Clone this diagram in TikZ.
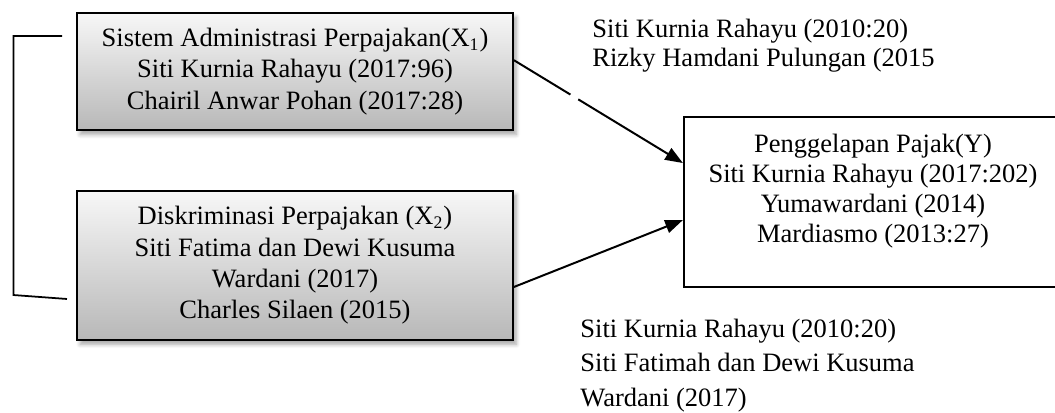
\documentclass[tikz,border=0pt]{standalone}
\usepackage{fontspec}
\setmainfont{Liberation Serif}
\usetikzlibrary{arrows.meta,shadows.blur,calc}

\begin{document}
\begin{tikzpicture}[
  varbox/.style={draw, line width=0.8pt, top color=black!3, bottom color=black!28,
    blur shadow={shadow xshift=0.05cm, shadow yshift=-0.07cm, shadow blur steps=6, shadow opacity=35},
    align=center, inner sep=0pt, minimum width=6.94cm,
    font=\fontsize{12pt}{14.2pt}\selectfont},
  ybox/.style={draw, line width=0.9pt, fill=white, inner sep=0pt,
    minimum width=6.02cm, minimum height=2.71cm},
  reftext/.style={align=left, inner sep=0pt, anchor=north west},
  arr/.style={-{Triangle[length=8pt,width=6pt]}, line width=0.9pt}
]
\useasboundingbox (0,0) rectangle (16.793,6.558);
% Variable X1
  \node[varbox, minimum height=1.867cm] (sap) at (4.696,5.42)
    {Sistem Administrasi Perpajakan(X\textsubscript{1})\\
     Siti Kurnia Rahayu (2017:96)\\
     Chairil Anwar Pohan (2017:28)};
% Variable X2
  \node[varbox, minimum height=2.377cm] (dp) at (4.696,2.335)
    {Diskriminasi Perpajakan (X\textsubscript{2})\\
     Siti Fatima dan Dewi Kusuma\\
     Wardani (2017)\\
     Charles Silaen (2015)};
% Variable Y
  \node[ybox] (pp) at (13.896,3.347) {};
  \node[align=center, inner sep=0pt, font=\fontsize{12pt}{13.6pt}\selectfont]
    (pptext) at ([yshift=0.17cm]pp.center)
    {Penggelapan Pajak(Y)\\
     Siti Kurnia Rahayu (2017:202)\\
     Yumawardani (2014)\\
     Mardiasmo (2013:27)};
% Sources above and below the arrows
  \node[reftext, font=\fontsize{12pt}{13.1pt}\selectfont] (refone) at (9.423,6.265)
    {Siti Kurnia Rahayu (2010:20)\\
     Rizky Hamdani Pulungan (2015};
  \node[reftext, font=\fontsize{12pt}{15.6pt}\selectfont] (reftwo) at (9.232,1.49)
    {Siti Kurnia Rahayu (2010:20)\\
     Siti Fatimah dan Dewi Kusuma\\
     Wardani (2017)};
% Arrows to Y
  \coordinate (aone) at ([yshift=0.18cm]sap.east);
  \coordinate (bone) at ([yshift=0.616cm]pp.west);
  \draw[arr] (aone) -- (bone);
  \draw[white, line width=2pt] ($(aone)!0.335!(bone)$) -- ($(aone)!0.38!(bone)$);
  \draw[arr] ([yshift=-0.345cm]dp.east) -- ([yshift=-0.291cm]pp.west);
% Bracket joining X1 and X2
  \coordinate (brA) at (0.987,5.985);
  \coordinate (brB) at (0.215,5.985);
  \coordinate (brC) at (0.215,1.862);
  \coordinate (brD) at (1.066,1.799);
  \draw[line width=0.8pt] (brA) -- (brB) -- (brC) -- (brD);
\end{tikzpicture}
\end{document}
